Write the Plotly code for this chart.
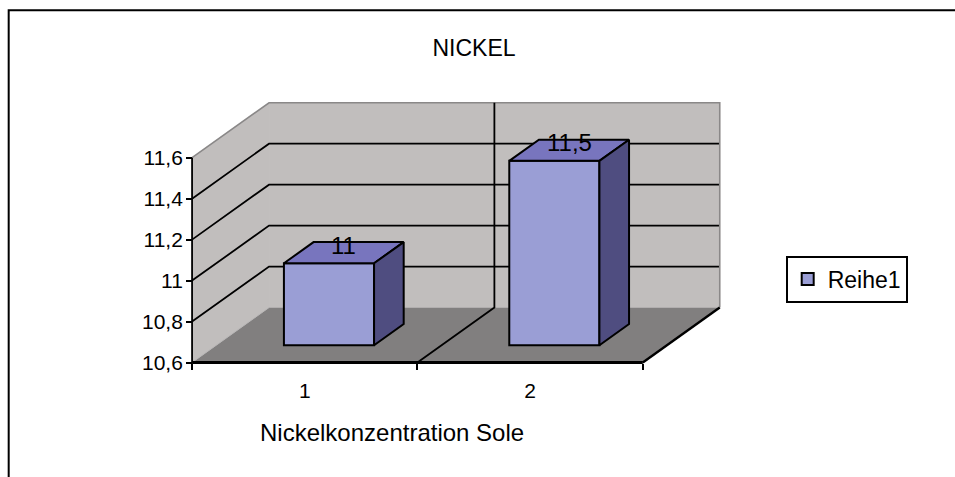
import plotly.graph_objects as go

# ---- data -------------------------------------------------------------
categories = ["1", "2"]
values = [11.0, 11.5]
value_labels = ["11", "11,5"]
y_ticks = [10.6, 10.8, 11.0, 11.2, 11.4, 11.6]
y_tick_labels = ["10,6", "10,8", "11", "11,2", "11,4", "11,6"]
series_name = "Reihe1"
chart_title = "NICKEL"
x_title = "Nickelkonzentration Sole"

# ---- 3D box geometry (oblique projection in axis units) ---------------
V_MIN, V_MAX = y_ticks[0], y_ticks[-1]
N = len(categories)
DX, DY = 0.3415, 0.2683        # offset of the back wall from the front plane
D_FRONT, D_BACK = 0.315, 0.70  # depth slice occupied by the bars
BAR_W = 0.4                    # bar width as fraction of a category

# ---- page / axis scaling ----------------------------------------------
W, H = 955, 477
PX_U, PX_V = 225.5, 205.0      # pixels per category / per value unit
ORIGIN_X, ORIGIN_Y = 192, 363  # pixel position of (0, V_MIN)
X_RANGE = [-0.2, 2.6]
Y_RANGE = [10.5, 11.95]

m_l = ORIGIN_X - (0 - X_RANGE[0]) * PX_U
m_r = W - (ORIGIN_X + X_RANGE[1] * PX_U)
m_b = H - (ORIGIN_Y + (V_MIN - Y_RANGE[0]) * PX_V)
m_t = ORIGIN_Y - (Y_RANGE[1] - V_MIN) * PX_V
plot_w = W - m_l - m_r
plot_h = H - m_t - m_b


def px_to_paper_x(px):
    return (px - m_l) / plot_w


def px_to_paper_y(py):
    return (H - m_b - py) / plot_h


WALL = "#C1BEBD"
FLOOR = "#817F7F"
EDGE_GREY = "#8A8888"
FRONT = "#9A9ED5"
TOP = "#7875BE"
SIDE = "#4F4D80"
FONT = "Liberation Sans, Arial, sans-serif"

shapes = []


def poly(pts, fill=None, color=None, width=0):
    d = "M " + " L ".join(f"{x},{y}" for x, y in pts)
    if fill:
        d += " Z"
    shapes.append(dict(
        type="path", path=d, xref="x", yref="y", layer="below",
        fillcolor=fill if fill else "rgba(0,0,0,0)",
        line=dict(color=color if color else "rgba(0,0,0,0)", width=width),
    ))


# walls and floor
poly([(0, V_MIN), (0, V_MAX), (DX, V_MAX + DY), (DX, V_MIN + DY)], fill=WALL)
poly([(DX, V_MIN + DY), (N + DX, V_MIN + DY), (N + DX, V_MAX + DY), (DX, V_MAX + DY)], fill=WALL)
poly([(0, V_MIN), (N, V_MIN), (N + DX, V_MIN + DY), (DX, V_MIN + DY)], fill=FLOOR)
poly([(0, V_MIN), (DX, V_MIN + DY)], color="#B8B6B6", width=1)

# gridlines on side and back wall
for v in y_ticks[1:-1]:
    poly([(0, v), (DX, v + DY), (N + DX, v + DY)], color="black", width=1.8)

# outer edges of the walls
poly([(0, V_MAX), (DX, V_MAX + DY), (N + DX, V_MAX + DY), (N + DX, V_MIN + DY)],
     color=EDGE_GREY, width=1.6)

# category dividers across floor and back wall
for k in range(1, N):
    poly([(k, V_MIN), (k + DX, V_MIN + DY), (k + DX, V_MAX + DY)], color="black", width=1.8)

# floor front / right edge and vertical value axis line
poly([(0, V_MIN), (N, V_MIN)], color="black", width=3)
poly([(N, V_MIN), (N + DX, V_MIN + DY)], color="black", width=2.4)
poly([(0, V_MIN), (0, V_MAX)], color="black", width=1.8)

# chart frame
shapes.append(dict(
    type="rect", xref="paper", yref="paper",
    x0=px_to_paper_x(8.5), x1=px_to_paper_x(W + 40),
    y0=px_to_paper_y(H + 40), y1=px_to_paper_y(10.5),
    line=dict(color="black", width=2), fillcolor="rgba(0,0,0,0)", layer="below",
))

fig = go.Figure()

# bar geometry derived from the values
centers = [k + 0.5 for k in range(N)]
fx = DX * D_FRONT
fy = DY * D_FRONT
bx = DX * D_BACK
by = DY * D_BACK

# front faces as real bars
fig.add_trace(go.Bar(
    x=[c + fx for c in centers],
    y=[v - V_MIN for v in values],
    base=V_MIN + fy,
    width=BAR_W,
    marker=dict(color=FRONT, line=dict(color="black", width=2)),
    name=series_name,
    showlegend=True,
    hoverinfo="skip",
))

# top and side faces
for c, v in zip(centers, values):
    xl_f, xr_f = c - BAR_W / 2 + fx, c + BAR_W / 2 + fx
    xl_b, xr_b = c - BAR_W / 2 + bx, c + BAR_W / 2 + bx
    top_f, top_b = v + fy, v + by
    bot_f, bot_b = V_MIN + fy, V_MIN + by
    fig.add_trace(go.Scatter(
        x=[xl_f, xr_f, xr_b, xl_b, xl_f], y=[top_f, top_f, top_b, top_b, top_f],
        mode="lines", fill="toself", fillcolor=TOP,
        line=dict(color="black", width=2), showlegend=False, hoverinfo="skip",
    ))
    fig.add_trace(go.Scatter(
        x=[xr_f, xr_b, xr_b, xr_f, xr_f], y=[top_f, top_b, bot_b, bot_f, top_f],
        mode="lines", fill="toself", fillcolor=SIDE,
        line=dict(color="black", width=2), showlegend=False, hoverinfo="skip",
    ))

# value labels sitting on the rear edge of each bar top
label_annotations = [
    dict(x=c + (fx + bx) / 2, y=v + by, xref="x", yref="y", text=t,
         showarrow=False, xanchor="center", yanchor="middle", yshift=-3,
         font=dict(family=FONT, size=24, color="black"))
    for c, v, t in zip(centers, values, value_labels)
]

fig.update_layout(
    width=W, height=H, autosize=False,
    margin=dict(l=m_l, r=m_r, t=m_t, b=m_b, pad=0),
    paper_bgcolor="white", plot_bgcolor="rgba(0,0,0,0)",
    font=dict(family=FONT, color="black"),
    shapes=shapes,
    title=dict(text=chart_title, x=474 / W, y=1 - 48 / H, xanchor="center", yanchor="middle",
               font=dict(family=FONT, size=23, color="black")),
    showlegend=True,
    legend=dict(
        x=px_to_paper_x(786), y=px_to_paper_y(256), xanchor="left", yanchor="top",
        bordercolor="black", borderwidth=2, bgcolor="white",
        font=dict(family=FONT, size=23, color="black"),
        itemwidth=30,
    ),
    xaxis=dict(
        range=X_RANGE, showgrid=False, zeroline=False, showline=False,
        tickmode="array", tickvals=centers, ticktext=categories, ticks="",
        tickfont=dict(family=FONT, size=21, color="black"),
        anchor="free", position=px_to_paper_y(ORIGIN_Y), ticklabelstandoff=13,
    ),
    xaxis2=dict(
        range=X_RANGE, overlaying="x", showgrid=False, zeroline=False, showline=False,
        tickmode="array", tickvals=list(range(N + 1)), ticks="outside", ticklen=6,
        tickwidth=1.6, tickcolor="black", showticklabels=False,
        anchor="free", position=px_to_paper_y(ORIGIN_Y), side="bottom",
    ),
    yaxis=dict(
        range=Y_RANGE, showgrid=False, zeroline=False, showline=False,
        tickmode="array", tickvals=y_ticks, ticktext=y_tick_labels,
        ticks="outside", ticklen=6, tickwidth=1.6, tickcolor="black",
        tickfont=dict(family=FONT, size=21, color="black"),
        anchor="free", position=px_to_paper_x(ORIGIN_X), ticklabelstandoff=-1,
    ),
    annotations=label_annotations + [dict(
        text=x_title, xref="paper", yref="paper",
        x=px_to_paper_x(392), y=px_to_paper_y(433), xanchor="center", yanchor="middle",
        showarrow=False, font=dict(family=FONT, size=24, color="black"),
    )],
)

# empty trace that puts the tick-mark axis on the page
fig.add_trace(go.Scatter(x=[None], y=[None], xaxis="x2", showlegend=False, hoverinfo="skip"))

fig.write_html("out.html")
